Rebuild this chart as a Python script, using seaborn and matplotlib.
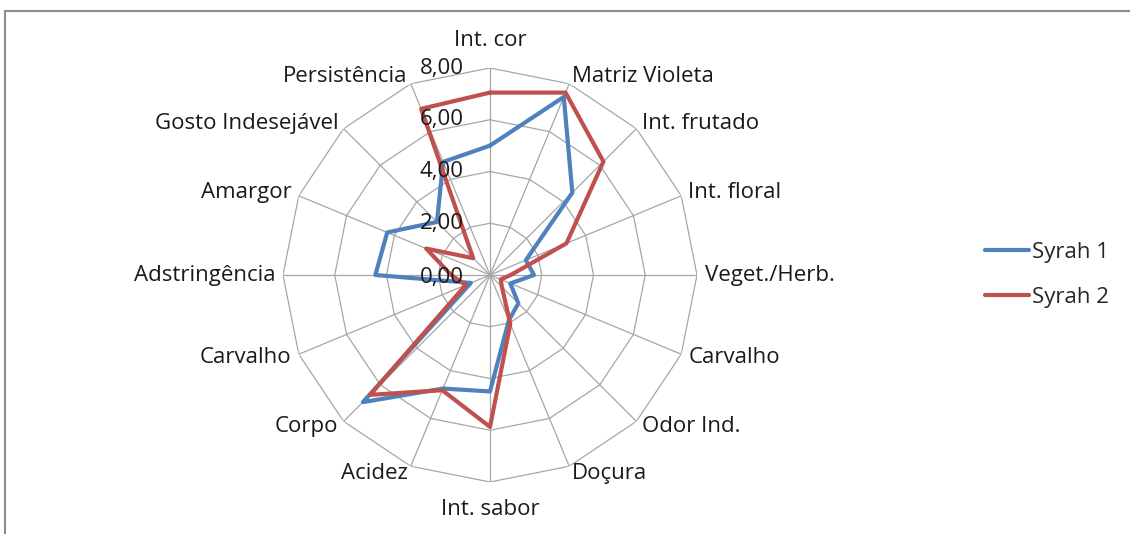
import numpy as np
import pandas as pd
import matplotlib
matplotlib.use("Agg")
import matplotlib.pyplot as plt
from matplotlib.lines import Line2D
import seaborn as sns

categories = ["Int. cor", "Matriz Violeta", "Int. frutado", "Int. floral", "Veget./Herb.",
              "Carvalho", "Odor Ind.", "Doçura", "Int. sabor", "Acidez", "Corpo",
              "Carvalho", "Adstringência", "Amargor", "Gosto Indesejável", "Persistência"]
syrah1 = [5.0, 7.45, 4.5, 1.5, 1.7, 0.85, 1.55, 1.9, 4.5, 4.75, 6.95, 0.8, 4.43, 4.3, 2.9, 4.73]
syrah2 = [7.05, 7.63, 6.2, 3.2, 0.8, 0.45, 0.65, 2.05, 5.87, 4.82, 6.55, 1.02, 1.5, 2.67, 0.92, 6.95]
series_names = ["Syrah 1", "Syrah 2"]
tick_values = [0, 2, 4, 6, 8]
tick_labels = ["0,00", "2,00", "4,00", "6,00", "8,00"]
colors = ["#4F81BD", "#C0504D"]

sns.set_theme(style="white")
plt.rcParams['font.family'] = ['Open Sans', 'DejaVu Sans']
FS = 16

W, H = 1130, 534
fig = plt.figure(figsize=(W / 100, H / 100), dpi=100)
cx, cy, R = 490, 275, 207
ax = fig.add_axes([(cx - R) / W, (H - cy - R) / H, 2 * R / W, 2 * R / H], projection="polar")
ax.set_theta_zero_location("N")
ax.set_theta_direction(-1)
ax.set_ylim(0, 8)
ax.grid(False)
ax.spines["polar"].set_visible(False)
ax.set_xticks([])
ax.set_yticks([])
ax.patch.set_alpha(0)

n = len(categories)
angles = np.linspace(0, 2 * np.pi, n, endpoint=False)
closed = np.append(angles, angles[0] + 2 * np.pi)

# polygon grid
grid_c = "#A6A6A6"
for v in tick_values[1:]:
    ax.plot(closed, [v] * (n + 1), color=grid_c, lw=0.9, zorder=1)
for a in angles:
    ax.plot([a, a], [0, 8], color=grid_c, lw=0.9, zorder=1)

# data
rows = []
for name, vals in zip(series_names, [syrah1, syrah2]):
    vv = list(vals) + [vals[0]]
    for i, (a, v) in enumerate(zip(closed, vv)):
        rows.append({"theta": a, "r": v, "serie": name, "order": i})
df = pd.DataFrame(rows)
sns.lineplot(data=df, x="theta", y="r", hue="serie", palette=colors, sort=False,
             estimator=None, lw=3, ax=ax, legend=False, zorder=3)
ax.set_xlabel("")
ax.set_ylabel("")

# category labels
for a, lab in zip(angles, categories):
    s = np.sin(a)
    if abs(s) < 0.01:
        ha = "center"
        rr = 9.05
    else:
        ha = "left" if s > 0 else "right"
        rr = 8.3
    ax.text(a, rr, lab, ha=ha, va="center", fontsize=FS, color="#1a1a1a", clip_on=False)

# value labels
for v, lab in zip(tick_values, tick_labels):
    ax.annotate(lab, xy=(0, v), xytext=(-19, -1.5 if v == 0 else 0), textcoords="offset points",
                ha="right", va="center", fontsize=FS, color="#1a1a1a", annotation_clip=False)

# legend
handles = [Line2D([0], [0], color=c, lw=3) for c in colors]
fig.legend(handles, series_names, loc="center left", bbox_to_anchor=(985 / W, 1 - 275 / H),
           frameon=False, fontsize=FS, handlelength=2.0, handletextpad=0.1,
           labelspacing=1.1, borderpad=0, borderaxespad=0)

# chart frame
fr = "#8C8C8C"
fig.add_artist(Line2D([5 / W, 5 / W], [0, 1 - 11 / H], transform=fig.transFigure, color=fr, lw=1.5))
fig.add_artist(Line2D([5 / W, 1], [1 - 11 / H, 1 - 11 / H], transform=fig.transFigure, color=fr, lw=1.5))

fig.savefig("out.png", dpi=100, facecolor="white")
